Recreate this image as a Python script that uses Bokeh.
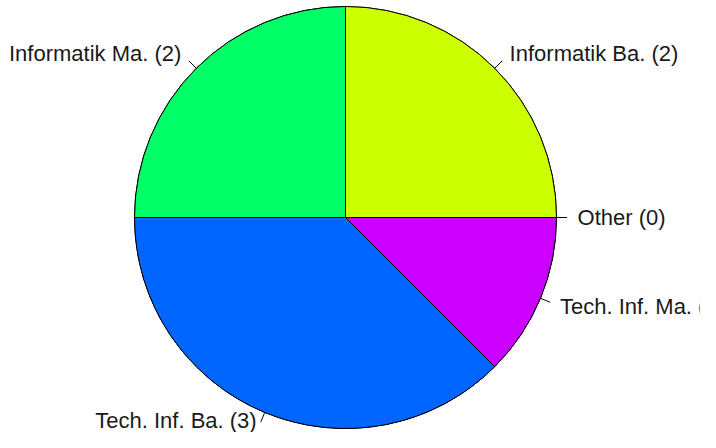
import numpy as np
from bokeh.plotting import figure
from bokeh.models import ColumnDataSource
from bokeh.core.properties import value
from bokeh.embed import file_html
from bokeh.resources import INLINE

categories = ["Other", "Informatik Ba.", "Informatik Ma.", "Tech. Inf. Ba.", "Tech. Inf. Ma."]
counts = [0, 2, 2, 3, 1]
colors = ["#FF0000", "#CCFF00", "#00FF66", "#0066FF", "#CC00FF"]

R = 211.0
W, H = 700, 432
cx_fig, cy_fig = 345, 217
FONT_PX = 22

p = figure(width=W, height=H, output_backend="svg", toolbar_location=None,
           x_range=(-cx_fig, W - cx_fig), y_range=(-(H - cy_fig), cy_fig),
           min_border=0)
p.axis.visible = False
p.grid.visible = False
p.outline_line_color = None
p.background_fill_color = "white"
p.border_fill_color = "white"

total = float(sum(counts))
cum = np.cumsum([0] + counts)
start = 2 * np.pi * cum[:-1] / total
end = 2 * np.pi * cum[1:] / total

src = ColumnDataSource(dict(start=start, end=end, color=colors))
p.wedge(x=0, y=0, radius=R, start_angle="start", end_angle="end", direction="anticlock",
        fill_color="color", line_color="black", line_width=1, source=src)

mid = (start + end) / 2
labels = [f"{c} ({n})" for c, n in zip(categories, counts)]
lx0 = R * np.cos(mid); ly0 = R * np.sin(mid)
lx1 = 1.05 * R * np.cos(mid); ly1 = 1.05 * R * np.sin(mid)
p.segment(x0=lx0, y0=ly0, x1=lx1, y1=ly1, line_color="black", line_width=1)

tx = 1.1 * R * np.cos(mid)
ty = 1.1 * R * np.sin(mid)
# keep labels inside the canvas vertically
ymin = -(H - cy_fig) + FONT_PX * 0.55
ymax = cy_fig - FONT_PX * 0.55
ty = np.clip(ty, ymin, ymax)
align = ["left" if np.cos(a) > 0 else "right" for a in mid]
tsrc = ColumnDataSource(dict(x=tx, y=ty, t=labels, a=align))
p.text(x="x", y="y", text="t", text_align="a", text_baseline="middle",
       text_font=value("Liberation Sans"), text_font_size=f"{FONT_PX}px",
       text_color="#1a1a1a", source=tsrc)

open("out.html", "w").write(file_html(p, INLINE))
